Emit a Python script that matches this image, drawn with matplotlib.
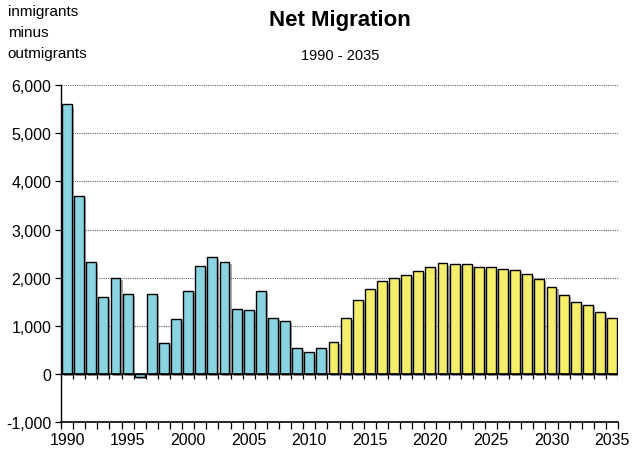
import matplotlib.pyplot as plt
import matplotlib.patheffects as pe
import numpy as np

plt.rcParams['font.family'] = ['Liberation Sans', 'DejaVu Sans']

years = list(range(1990, 2036))
actual = [5600, 3700, 2330, 1600, 2000, 1665, -60, 1655, 645, 1140,
          1720, 2235, 2435, 2330, 1355, 1330, 1720, 1155, 1105, 545,
          455, 545]
projected = [660, 1170, 1530, 1765, 1925, 1990, 2060, 2130, 2230, 2295,
             2290, 2280, 2230, 2215, 2185, 2160, 2085, 1965, 1805, 1645,
             1490, 1425, 1285, 1170]
blue = '#8ad3e0'
yellow = '#f5ee6a'

fig = plt.figure(figsize=(6.32, 4.56), dpi=100)
ax = fig.add_axes([0.0965, 0.0724, 0.8815, 0.7386])

x = np.arange(len(years))
n_act = len(actual)
shadow = [pe.SimplePatchShadow(offset=(1.5, -1.5), shadow_rgbFace='#555555', alpha=0.5), pe.Normal()]
b1 = ax.bar(x[:n_act], actual, width=0.82, color=blue, edgecolor='black', linewidth=1.0, zorder=3)
b2 = ax.bar(x[n_act:], projected, width=0.82, color=yellow, edgecolor='black', linewidth=1.0, zorder=3)
for b in list(b1) + list(b2):
    b.set_path_effects(shadow)

ax.set_xlim(-0.5, len(years) - 0.5)
ax.set_ylim(-1000, 6000)
ax.set_yticks(range(-1000, 6001, 1000))
ax.set_yticklabels([f'{v:,}' for v in range(-1000, 6001, 1000)], fontsize=11.5)
for v in range(1000, 6001, 1000):
    ax.axhline(v, color='#666666', linestyle=(0, (1, 1)), linewidth=0.8, zorder=1)

# zero line with category ticks
ax.axhline(0, color='black', linewidth=1.2, zorder=4)
bounds = np.arange(len(years) + 1) - 0.5
ax.vlines(bounds, -110, 0, color='black', linewidth=0.9, zorder=4)

lab_idx = [i for i, y in enumerate(years) if y % 5 == 0]
ax.set_xticks(lab_idx)
ax.set_xticklabels([str(years[i]) for i in lab_idx], fontsize=11.5)
ax.set_xticks(bounds, minor=True)
ax.tick_params(axis='x', which='major', length=0, pad=7)
ax.tick_params(axis='x', which='minor', length=5, direction='out', width=0.9)
ax.tick_params(axis='y', length=4, width=0.9, pad=3)

ax.spines['top'].set_visible(False)
ax.spines['right'].set_visible(False)
ax.spines['left'].set_linewidth(1.0)
ax.spines['bottom'].set_linewidth(1.2)

fig.text(0.538, 0.955, 'Net Migration', ha='center', va='center', fontsize=16, fontweight='bold')
fig.text(0.538, 0.877, '1990 - 2035', ha='center', va='center', fontsize=10.5)
fig.text(0.012, 0.988, 'inmigrants\nminus\noutmigrants', ha='left', va='top', fontsize=11, linespacing=1.6)

fig.savefig('out.png', dpi=100)
